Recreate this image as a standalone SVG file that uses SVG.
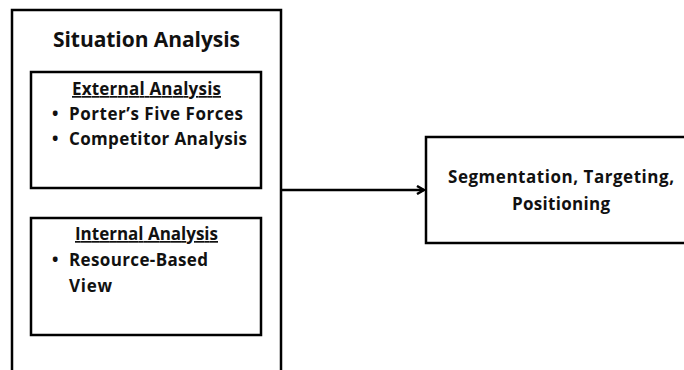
<svg xmlns="http://www.w3.org/2000/svg" width="684" height="370" viewBox="0 0 684 370">
<defs>
<style>
.box{fill:#fff;stroke:#000;stroke-width:2.5}
.t{font-family:"Open Sans","Noto Sans",sans-serif;font-weight:bold;fill:#111}
.h{font-size:21px}
.s{font-size:17px}
.c{stroke:#000;stroke-width:2.5;fill:none}
</style>
<marker id="ah" markerWidth="10" markerHeight="10" refX="8" refY="5" orient="auto" markerUnits="userSpaceOnUse">
<path d="M1,1 L8,5 L1,9" fill="none" stroke="#000" stroke-width="2.5"/>
</marker>
</defs>
<rect width="684" height="370" fill="#fff"/>
<g id="situation">
<rect class="box" x="12" y="10" width="269" height="365"/>
<text class="t h" x="53" y="47" textLength="187" lengthAdjust="spacing">Situation Analysis</text>
</g>
<g id="external">
<rect class="box" x="31" y="72" width="230" height="116"/>
<text class="t s" x="72" y="95" textLength="149" lengthAdjust="spacing" text-decoration="underline">External Analysis</text>
<text class="t s" x="52" y="120">•</text>
<text class="t s" x="69" y="120" textLength="174" lengthAdjust="spacing">Porter’s Five Forces</text>
<text class="t s" x="52" y="145">•</text>
<text class="t s" x="69" y="145" textLength="178" lengthAdjust="spacing">Competitor Analysis</text>
</g>
<g id="internal">
<rect class="box" x="31" y="218" width="230" height="117"/>
<text class="t s" x="75" y="240" textLength="143" lengthAdjust="spacing" text-decoration="underline">Internal Analysis</text>
<text class="t s" x="52" y="266">•</text>
<text class="t s" x="69" y="266" textLength="139" lengthAdjust="spacing">Resource-Based</text>
<text class="t s" x="69" y="292" textLength="43" lengthAdjust="spacing">View</text>
</g>
<g id="stp">
<rect class="box" x="426" y="137" width="270" height="106"/>
<text class="t s" x="448" y="183" textLength="226" lengthAdjust="spacing">Segmentation, Targeting,</text>
<text class="t s" x="512" y="210" textLength="98" lengthAdjust="spacing">Positioning</text>
</g>
<g id="connectors">
<line class="c" x1="282" y1="190" x2="424" y2="190" marker-end="url(#ah)"/>
</g>
</svg>
